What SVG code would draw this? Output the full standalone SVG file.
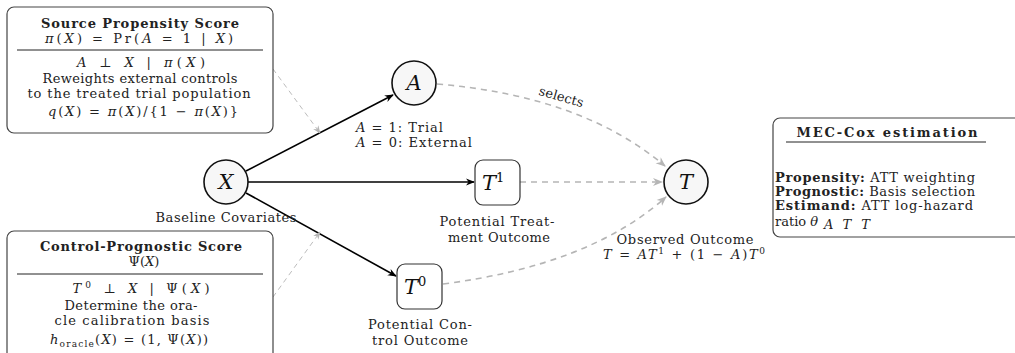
<svg xmlns="http://www.w3.org/2000/svg" width="1015" height="353" viewBox="0 0 1015 353">
<defs>
<marker id="ah" viewBox="0 0 10 10" refX="9" refY="5" markerWidth="9" markerHeight="9" markerUnits="userSpaceOnUse" orient="auto"><path d="M0,1 L10,5 L0,9 L3,5 Z" fill="#000"/></marker>
<marker id="ahg" viewBox="0 0 10 10" refX="9" refY="5" markerWidth="10" markerHeight="10" markerUnits="userSpaceOnUse" orient="auto"><path d="M0,1 L10,5 L0,9 L3,5 Z" fill="#b5b5b5"/></marker>
<marker id="ahs" viewBox="0 0 10 10" refX="9" refY="5" markerWidth="8" markerHeight="8" markerUnits="userSpaceOnUse" orient="auto"><path d="M0,1 L10,5 L0,9 L3,5 Z" fill="#b5b5b5"/></marker>
</defs>
<style>
text{font-family:"DejaVu Serif","Liberation Serif",serif;font-size:13px;fill:#222;}
.b{font-weight:bold;}
.i{font-style:italic;}
.c{text-anchor:middle;}
.node{fill:#f7f7f7;stroke:#111;stroke-width:1.6;}
.rnode{fill:#fff;stroke:#333;stroke-width:1.2;}
.box{fill:#fff;stroke:#444;stroke-width:1.2;}
.big{font-size:21px;font-style:italic;fill:#111;}
.solid{stroke:#000;stroke-width:1.6;fill:none;}
.dash{stroke:#b5b5b5;stroke-width:1.6;fill:none;stroke-dasharray:6,5;}
.dashs{stroke:#bcbcbc;stroke-width:1;fill:none;stroke-dasharray:5,4;}
</style>
<rect width="1015" height="353" fill="#fff"/>

<g id="connectors">
<line class="solid" x1="246" y1="171" x2="393" y2="95" marker-end="url(#ah)"/>
<line class="solid" x1="248" y1="182" x2="474" y2="182" marker-end="url(#ah)"/>
<line class="solid" x1="246" y1="193" x2="396" y2="276" marker-end="url(#ah)"/>
<path class="dash" d="M437,84 Q582,96 665,166" marker-end="url(#ahg)"/>
<line class="dash" x1="520" y1="182" x2="662" y2="182" marker-end="url(#ahg)"/>
<path class="dash" d="M443,284 Q590,265 666,197" marker-end="url(#ahg)"/>
<line class="dashs" x1="273" y1="69" x2="320" y2="133" marker-end="url(#ahs)"/>
<line class="dashs" x1="273" y1="297" x2="320" y2="232" marker-end="url(#ahs)"/>
<text class="c" font-size="11" textLength="46" lengthAdjust="spacing" transform="translate(560,101) rotate(16)">selects</text>
</g>

<g id="source-box">
<rect class="box" x="7" y="7" width="266" height="126" rx="7"/>
<text class="c b" x="140" y="28" textLength="198" lengthAdjust="spacing">Source Propensity Score</text>
<text class="c" x="139" y="43" textLength="188" lengthAdjust="spacing"><tspan class="i">π</tspan>(<tspan class="i">X</tspan>) = Pr(<tspan class="i">A</tspan> = 1 | <tspan class="i">X</tspan>)</text>
<line x1="17" y1="50" x2="263" y2="50" stroke="#222" stroke-width="1"/>
<text class="c" x="141" y="67" textLength="128" lengthAdjust="spacing"><tspan class="i">A</tspan> ⊥ <tspan class="i">X</tspan> | <tspan class="i">π</tspan>(<tspan class="i">X</tspan>)</text>
<text class="c" x="140" y="83" textLength="195" lengthAdjust="spacing">Reweights external controls</text>
<text class="c" x="139" y="98" textLength="223" lengthAdjust="spacing">to the treated trial population</text>
<text class="c" x="143" y="116" textLength="190" lengthAdjust="spacing"><tspan class="i">q</tspan>(<tspan class="i">X</tspan>) = <tspan class="i">π</tspan>(<tspan class="i">X</tspan>)/{1 − <tspan class="i">π</tspan>(<tspan class="i">X</tspan>)}</text>
</g>

<g id="control-box">
<rect class="box" x="7" y="231" width="266" height="130" rx="7"/>
<text class="c b" x="141" y="251" textLength="202" lengthAdjust="spacing">Control-Prognostic Score</text>
<text class="c" x="144" y="266">Ψ(<tspan class="i">X</tspan>)</text>
<line x1="17" y1="274" x2="263" y2="274" stroke="#222" stroke-width="1"/>
<text class="c" x="141" y="293" textLength="137" lengthAdjust="spacing"><tspan class="i">T</tspan><tspan font-size="9" dy="-5">0</tspan><tspan dy="5"> ⊥ </tspan><tspan class="i">X</tspan> | Ψ(<tspan class="i">X</tspan>)</text>
<text class="c" x="131" y="310" textLength="133" lengthAdjust="spacing">Determine the ora-</text>
<text class="c" x="132" y="325" textLength="155" lengthAdjust="spacing">cle calibration basis</text>
<text class="c" x="129" y="344" textLength="158" lengthAdjust="spacing"><tspan class="i">h</tspan><tspan font-size="9" dy="3">oracle</tspan><tspan dy="-3">(</tspan><tspan class="i">X</tspan>) = (1, Ψ(<tspan class="i">X</tspan>))</text>
</g>

<g id="node-X">
<circle class="node" cx="226" cy="182" r="22"/>
<text class="c big" x="226" y="189">X</text>
<text class="c" x="226" y="222" textLength="141" lengthAdjust="spacing">Baseline Covariates</text>
</g>

<g id="node-A">
<circle class="node" cx="414" cy="83" r="22"/>
<text class="c big" x="414" y="90">A</text>
<text x="356" y="132" textLength="87" lengthAdjust="spacing"><tspan class="i">A</tspan> = 1:  Trial</text>
<text x="356" y="147" textLength="116" lengthAdjust="spacing"><tspan class="i">A</tspan> = 0:  External</text>
</g>

<g id="node-T1">
<rect class="rnode" x="475" y="160" width="45" height="45" rx="8"/>
<text class="big" x="482" y="190">T<tspan font-size="13" font-style="normal" dy="-8">1</tspan></text>
<text class="c" x="497" y="226" textLength="115" lengthAdjust="spacing">Potential Treat-</text>
<text class="c" x="499" y="242" textLength="102" lengthAdjust="spacing">ment Outcome</text>
</g>

<g id="node-T0">
<rect class="rnode" x="397" y="264" width="45" height="45" rx="8"/>
<text class="big" x="404" y="294">T<tspan font-size="13" font-style="normal" dy="-8">0</tspan></text>
<text class="c" x="420" y="329" textLength="104" lengthAdjust="spacing">Potential Con-</text>
<text class="c" x="420" y="345" textLength="96" lengthAdjust="spacing">trol Outcome</text>
</g>

<g id="node-T">
<circle class="node" cx="686" cy="182" r="22"/>
<text class="c big" x="686" y="189">T</text>
<text class="c" x="685" y="244" textLength="137" lengthAdjust="spacing">Observed Outcome</text>
<text class="c" x="684" y="259" textLength="162" lengthAdjust="spacing"><tspan class="i">T</tspan> = <tspan class="i">AT</tspan><tspan font-size="9" dy="-5">1</tspan><tspan dy="5"> + (1 − </tspan><tspan class="i">A</tspan>)<tspan class="i">T</tspan><tspan font-size="9" dy="-5">0</tspan></text>
</g>

<g id="mec-box">
<rect class="box" x="773" y="118" width="260" height="119" rx="7"/>
<text class="c b" x="887" y="137" textLength="181" lengthAdjust="spacing">MEC-Cox estimation</text>
<line x1="786" y1="142" x2="986" y2="142" stroke="#222" stroke-width="1"/>
<text x="775" y="182" textLength="200" lengthAdjust="spacing"><tspan class="b">Propensity:</tspan> ATT weighting</text>
<text x="775" y="196" textLength="200" lengthAdjust="spacing"><tspan class="b">Prognostic:</tspan> Basis selection</text>
<text x="775" y="210" textLength="198" lengthAdjust="spacing"><tspan class="b">Estimand:</tspan> ATT log-hazard</text>
<text x="775" y="226">ratio <tspan class="i">θ</tspan></text>
<text class="i" x="824" y="229" font-size="13" textLength="46" lengthAdjust="spacing">ATT</text>
</g>
</svg>
